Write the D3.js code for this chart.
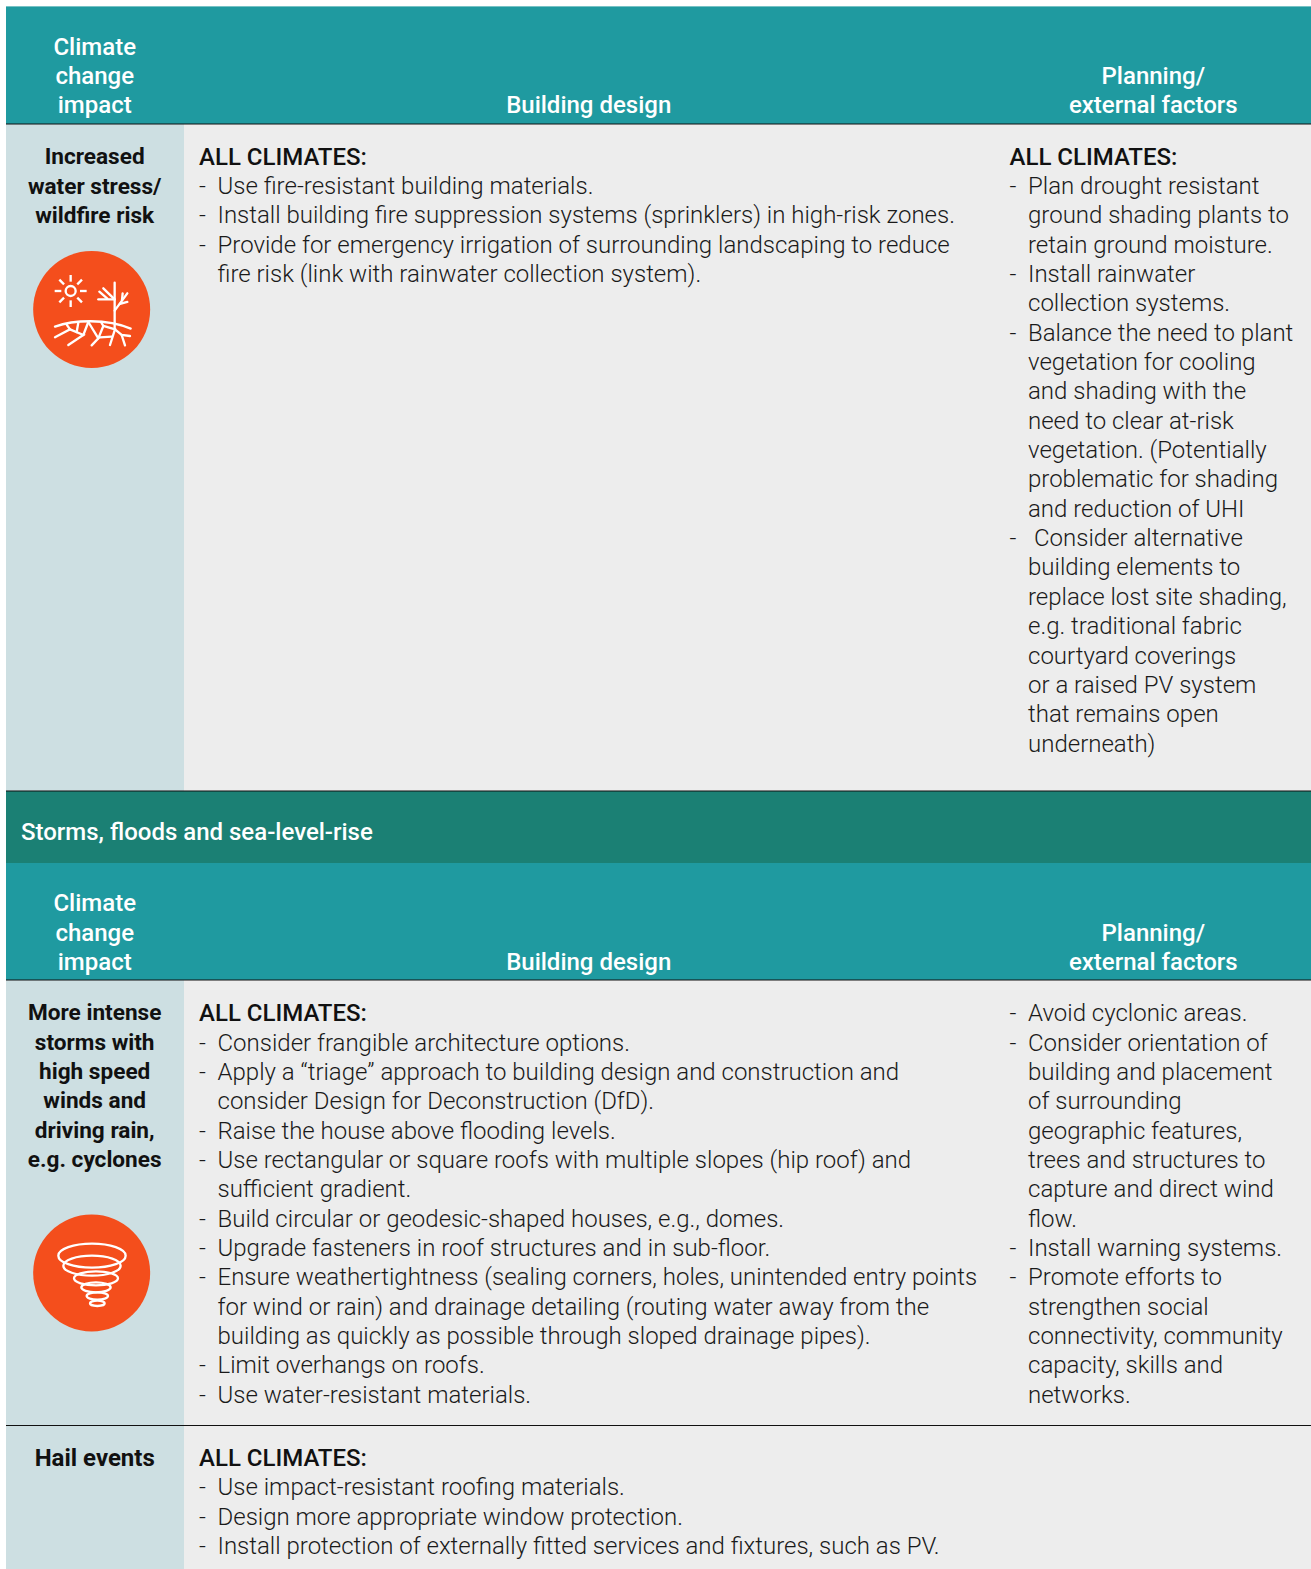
<!DOCTYPE html>
<html>
<head>
<meta charset="utf-8">
<script src="https://cdn.jsdelivr.net/npm/d3@7"></script>
<style>
  html, body { margin: 0; padding: 0; background: #fff; }
  svg { display: block; }
  text { font-family: Roboto, sans-serif; }
</style>
</head>
<body>
<div id="table-container"></div>
<script>
const width = 1311;
const height = 1569;
const left = 6;
const colSplit = 184;
const lineH = 29.34;
const fontSize = 24;

const teal = '#1f9aa0';
const darkTeal = '#1b8074';
const impactBg = '#cddfe2';
const bodyBg = '#ededed';
const orange = '#f44e1c';
const ink = '#1a1a1a';

// [top, bottom, fill]
const bands = [
    [6.4, 124, teal],
    [791, 863, darkTeal],
    [863, 980, teal]
];
const rows = [
    [124, 791],
    [980, 1425],
    [1425, 1569]
];
const rules = [124, 791, 980, 1425.5];

const headerImpact = ['Climate', 'change', 'impact'];
const headerDesign = ['Building design'];
const headerPlanning = ['Planning/', 'external factors'];
const bandTitle = 'Storms, floods and sea-level-rise';

const impact1 = ['Increased', 'water stress/', 'wildfire risk'];
const impact2 = ['More intense', 'storms with', 'high speed', 'winds and', 'driving rain,', 'e.g. cyclones'];
const impact3 = ['Hail events'];

// "- " starts a new bullet, other lines carry on the one above
const design1 = [
    '# ALL CLIMATES:',
    '- Use fire-resistant building materials.',
    '- Install building fire suppression systems (sprinklers) in high-risk zones.',
    '- Provide for emergency irrigation of surrounding landscaping to reduce',
    'fire risk (link with rainwater collection system).'
];
const planning1 = [
    '# ALL CLIMATES:',
    '- Plan drought resistant',
    'ground shading plants to',
    'retain ground moisture.',
    '- Install rainwater',
    'collection systems.',
    '- Balance the need to plant',
    'vegetation for cooling',
    'and shading with the',
    'need to clear at-risk',
    'vegetation. (Potentially',
    'problematic for shading',
    'and reduction of UHI',
    '-  Consider alternative',
    'building elements to',
    'replace lost site shading,',
    'e.g. traditional fabric',
    'courtyard coverings',
    'or a raised PV system',
    'that remains open',
    'underneath)'
];
const design2 = [
    '# ALL CLIMATES:',
    '- Consider frangible architecture options.',
    '- Apply a “triage” approach to building design and construction and',
    'consider Design for Deconstruction (DfD).',
    '- Raise the house above flooding levels.',
    '- Use rectangular or square roofs with multiple slopes (hip roof) and',
    'sufficient gradient.',
    '- Build circular or geodesic-shaped houses, e.g., domes.',
    '- Upgrade fasteners in roof structures and in sub-floor.',
    '- Ensure weathertightness (sealing corners, holes, unintended entry points',
    'for wind or rain) and drainage detailing (routing water away from the',
    'building as quickly as possible through sloped drainage pipes).',
    '- Limit overhangs on roofs.',
    '- Use water-resistant materials.'
];
const planning2 = [
    '- Avoid cyclonic areas.',
    '- Consider orientation of',
    'building and placement',
    'of surrounding',
    'geographic features,',
    'trees and structures to',
    'capture and direct wind',
    'flow.',
    '- Install warning systems.',
    '- Promote efforts to',
    'strengthen social',
    'connectivity, community',
    'capacity, skills and',
    'networks.'
];
const design3 = [
    '# ALL CLIMATES:',
    '- Use impact-resistant roofing materials.',
    '- Design more appropriate window protection.',
    '- Install protection of externally fitted services and fixtures, such as PV.'
];

// icon shapes, in units of a 140px crop scaled by 3
const tornadoRings = [
    [216, 152, 101, 36],
    [216, 182, 86, 30],
    [228, 220, 66, 21],
    [228, 247, 44, 15],
    [232, 273, 32, 11],
    [232, 295, 22, 8]
];
const sunRays = [0, 45, 90, 135, 180, 225, 270, 315];
const droughtPaths = [
    'M284 128V250', 'M284 178H235', 'M284 178L250 145', 'M262 176L238 155',
    'M284 212L322 160', 'M300 192L322 186', 'M306 180L308 160',
    'M105 260C160 240 260 235 332 266',
    'M105 292L150 268L140 254', 'M150 268L190 285L145 315', 'M175 248L170 276',
    'M205 246L235 295L215 316', 'M205 246L190 285', 'M235 295L250 258L243 246',
    'M250 258L285 268L270 315', 'M284 250V268', 'M285 268L305 285L330 288',
    'M305 285L315 316', 'M240 292L275 290'
];

const svg = d3.select('#table-container')
    .append('svg')
    .attr('width', width)
    .attr('height', height)
    .attr('viewBox', [0, 0, width, height]);

svg.append('g')
    .selectAll('rect')
    .data(bands)
    .join('rect')
        .attr('x', left)
        .attr('y', d => d[0])
        .attr('width', width - left)
        .attr('height', d => d[1] - d[0])
        .attr('fill', d => d[2]);

const rowG = svg.append('g').selectAll('g').data(rows).join('g');
rowG.append('rect')
    .attr('x', left)
    .attr('y', d => d[0])
    .attr('width', colSplit - left)
    .attr('height', d => d[1] - d[0])
    .attr('fill', impactBg);
rowG.append('rect')
    .attr('x', colSplit)
    .attr('y', d => d[0])
    .attr('width', width - colSplit)
    .attr('height', d => d[1] - d[0])
    .attr('fill', bodyBg);

svg.append('g')
    .selectAll('line')
    .data(rules)
    .join('line')
        .attr('x1', left)
        .attr('x2', width)
        .attr('y1', d => d)
        .attr('y2', d => d)
        .attr('stroke', '#111')
        .attr('stroke-width', 1.1);

function centred(lines, x, y0, fill, weight, size) {
    svg.append('g')
        .attr('text-anchor', 'middle')
        .attr('font-size', size)
        .attr('font-weight', weight)
        .attr('fill', fill)
        .selectAll('text')
        .data(lines)
        .join('text')
            .attr('x', x)
            .attr('y', (d, i) => y0 + i * lineH)
            .text(d => d);
}

function bullets(lines, xDash, y0) {
    const g = svg.append('g')
        .attr('font-size', fontSize)
        .attr('fill', ink);
    lines.forEach((line, i) => {
        const y = y0 + i * lineH;
        if (line.startsWith('# ')) {
            g.append('text')
                .attr('x', xDash)
                .attr('y', y)
                .attr('font-weight', 500)
                .attr('fill', '#111')
                .text(line.slice(2));
        } else if (line.startsWith('-')) {
            const extra = line.startsWith('-  ') ? 6 : 0;
            g.append('text')
                .attr('x', xDash)
                .attr('y', y)
                .attr('font-weight', 300)
                .text('-');
            g.append('text')
                .attr('x', xDash + 18.5 + extra)
                .attr('y', y)
                .attr('font-weight', 300)
                .text(line.replace(/^-\s+/, ''));
        } else {
            g.append('text')
                .attr('x', xDash + 18.5)
                .attr('y', y)
                .attr('font-weight', 300)
                .text(line);
        }
    });
}

[0, 856.5].forEach(dy => {
    centred(headerImpact, 94.7, 54.7 + dy, '#fff', 500, fontSize);
    centred(headerDesign, 588.7, 113.38 + dy, '#fff', 500, fontSize);
    centred(headerPlanning, 1153.3, 84.04 + dy, '#fff', 500, fontSize);
});

svg.append('text')
    .attr('x', 21)
    .attr('y', 840)
    .attr('font-size', fontSize)
    .attr('font-weight', 500)
    .attr('fill', '#fff')
    .text(bandTitle);

centred(impact1, 94.7, 164.3, '#111', 700, 22.6);
centred(impact2, 94.7, 1020.2, '#111', 700, 22.6);
centred(impact3, 94.7, 1465.9, '#111', 700, 24);

bullets(design1, 199, 164.72);
bullets(planning1, 1009.5, 164.72);
bullets(design2, 199, 1021.2);
bullets(planning2, 1009.5, 1021.2);
bullets(design3, 199, 1465.9);

// icons
const icon1 = svg.append('g').attr('transform', 'translate(20,240) scale(0.3333)');
icon1.append('circle').attr('cx', 215).attr('cy', 208.5).attr('r', 175.5).attr('fill', orange);
const sun = icon1.append('g')
    .attr('transform', 'translate(152,153)')
    .attr('stroke', '#fff')
    .attr('stroke-width', 7)
    .attr('fill', 'none');
sun.append('circle').attr('r', 15);
sun.selectAll('line')
    .data(sunRays)
    .join('line')
        .attr('x1', 28)
        .attr('x2', 48)
        .attr('transform', d => `rotate(${d})`);
icon1.append('g')
    .attr('fill', 'none')
    .attr('stroke', '#fff')
    .attr('stroke-width', 7)
    .attr('stroke-linecap', 'round')
    .selectAll('path')
    .data(droughtPaths)
    .join('path')
        .attr('d', d => d);

const icon2 = svg.append('g').attr('transform', 'translate(20,1205) scale(0.3333)');
icon2.append('circle').attr('cx', 215).attr('cy', 204).attr('r', 175.5).attr('fill', orange);
icon2.append('g')
    .attr('fill', 'none')
    .attr('stroke', '#fff')
    .attr('stroke-width', 7)
    .selectAll('ellipse')
    .data(tornadoRings)
    .join('ellipse')
        .attr('cx', d => d[0])
        .attr('cy', d => d[1])
        .attr('rx', d => d[2])
        .attr('ry', d => d[3]);
</script>
</body>
</html>
